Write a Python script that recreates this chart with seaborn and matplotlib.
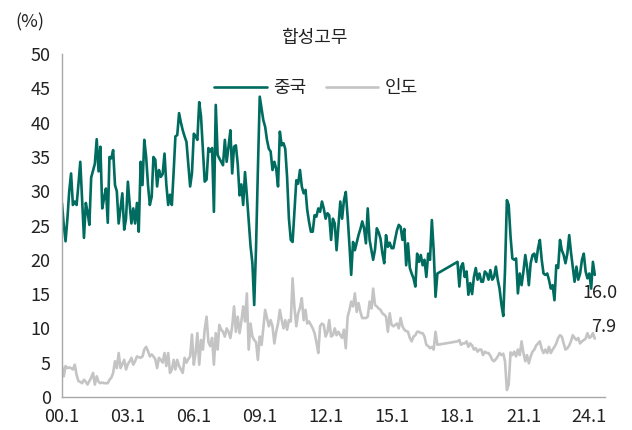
import pandas as pd
import matplotlib
matplotlib.use("Agg")
import matplotlib.pyplot as plt
import seaborn as sns

# monthly share (%), 2000.01 - 2024.04, no data for 2017.03 - 2017.12
china = [
    28.3, 25.0, 22.7, 26.0, 30.0, 32.6, 28.0, 28.5, 28.0, 31.0, 34.3, 29.0,  # 2000
    23.2, 28.3, 27.0, 25.1, 32.0, 33.0, 34.0, 37.6, 32.9, 36.5, 27.5, 29.0,  # 2001
    30.4, 25.4, 35.0, 34.8, 36.0, 30.9, 30.0, 25.3, 27.5, 29.7, 24.4, 26.0,  # 2002
    31.4, 28.0, 25.3, 27.5, 25.3, 28.3, 24.1, 34.3, 30.9, 37.5, 35.0, 31.0,  # 2003
    28.0, 29.2, 35.0, 34.6, 30.7, 33.1, 32.1, 32.5, 35.5, 31.0, 28.0, 29.5,  # 2004
    28.0, 33.0, 38.0, 38.2, 41.4, 40.0, 38.9, 38.0, 37.2, 34.0, 30.7, 32.6,  # 2005
    38.4, 38.0, 37.5, 43.0, 40.9, 36.0, 31.4, 31.7, 36.3, 35.8, 36.3, 27.0,  # 2006
    42.6, 35.3, 34.8, 34.3, 33.8, 37.5, 34.3, 36.5, 38.9, 32.6, 36.5, 36.7,  # 2007
    34.0, 29.4, 31.0, 28.0, 32.8, 29.4, 25.8, 22.0, 19.5, 13.4, 22.0, 33.1,  # 2008
    43.8, 42.0, 40.4, 39.4, 37.5, 36.2, 35.8, 33.1, 34.3, 33.3, 30.7, 38.7,  # 2009
    36.7, 37.0, 36.2, 32.0, 26.0, 22.9, 22.6, 27.0, 31.6, 31.1, 33.1, 30.7,  # 2010
    29.7, 30.2, 27.3, 25.5, 24.1, 24.1, 26.5, 26.3, 27.5, 27.0, 28.5, 27.5,  # 2011
    26.0, 26.8, 26.5, 22.9, 26.0, 25.3, 21.4, 25.0, 28.5, 26.0, 28.7, 29.9,  # 2012
    26.3, 22.0, 17.8, 22.6, 21.4, 22.5, 23.6, 24.5, 25.6, 24.6, 22.4, 27.5,  # 2013
    22.9, 21.4, 20.0, 21.5, 24.6, 24.0, 23.1, 21.0, 19.5, 23.6, 21.9, 22.5,  # 2014
    21.7, 21.7, 23.0, 24.3, 25.1, 24.8, 22.9, 24.5, 19.2, 22.4, 18.8, 18.0,  # 2015
    17.3, 16.1, 20.9, 19.7, 20.7, 19.2, 20.0, 17.5, 20.9, 20.0, 25.8, 21.4,  # 2016
    14.6, 18.0,                                                              # 2017
    19.7, 16.1, 19.0, 19.5, 17.5, 18.3, 14.9, 16.6, 15.0, 17.5, 18.8, 17.1,  # 2018
    18.0, 16.8, 16.8, 18.3, 18.0, 17.1, 18.5, 17.1, 17.5, 19.0, 17.1, 15.8,  # 2019
    13.5, 11.8, 18.5, 28.7, 28.0, 23.4, 20.2, 20.0, 20.2, 15.1, 18.0, 16.3,  # 2020
    18.3, 20.7, 19.0, 16.3, 19.5, 20.7, 20.9, 19.7, 21.7, 22.9, 20.0, 18.0,  # 2021
    17.8, 18.0, 17.1, 15.8, 16.3, 14.1, 19.2, 18.8, 22.9, 21.4, 20.7, 19.5,  # 2022
    20.9, 23.6, 21.2, 19.0, 16.8, 19.0, 17.1, 18.0, 20.0, 20.9, 18.3, 17.3,  # 2023
    18.0, 15.8, 19.7, 17.8,                                                  # 2024
]

india = [
    4.5, 3.0, 4.5, 4.2, 4.3, 4.2, 4.0, 4.7, 3.2, 2.3, 2.2, 2.0,  # 2000
    2.5, 2.2, 1.8, 2.3, 2.8, 3.5, 1.8, 3.0, 2.2, 2.0, 2.1, 2.0,  # 2001
    2.0, 2.0, 2.5, 2.8, 3.5, 5.2, 4.2, 6.4, 4.2, 4.8, 5.4, 4.0,  # 2002
    4.8, 5.2, 5.7, 4.7, 5.2, 5.9, 5.8, 5.7, 5.9, 6.9, 7.3, 6.7,  # 2003
    5.9, 6.2, 5.9, 5.5, 4.2, 5.7, 5.4, 5.0, 6.4, 4.5, 6.4, 3.5,  # 2004
    4.0, 5.4, 4.0, 5.4, 4.5, 4.0, 3.5, 5.7, 5.0, 5.5, 5.9, 9.1,  # 2005
    4.7, 6.5, 9.3, 4.7, 8.3, 6.9, 9.8, 11.7, 8.0, 7.4, 8.6, 4.7,  # 2006
    9.3, 6.9, 10.5, 9.8, 9.5, 8.8, 10.0, 9.5, 8.6, 10.3, 13.2, 9.5,  # 2007
    11.7, 9.3, 11.0, 13.2, 11.0, 15.1, 6.9, 10.7, 8.8, 8.3, 8.0, 5.4,  # 2008
    8.8, 7.6, 10.0, 12.7, 11.5, 10.3, 11.2, 10.3, 7.8, 9.5, 10.7, 12.7,  # 2009
    11.2, 10.0, 11.2, 9.8, 11.2, 11.0, 17.3, 13.0, 10.3, 12.2, 13.0, 14.4,  # 2010
    11.2, 12.7, 10.7, 11.0, 10.5, 10.0, 9.3, 8.0, 6.4, 10.3, 10.7, 10.5,  # 2011
    8.8, 9.5, 11.2, 8.8, 9.0, 10.0, 9.0, 9.5, 9.0, 8.6, 9.8, 7.1,  # 2012
    11.7, 12.7, 13.9, 13.2, 15.1, 12.4, 13.7, 12.4, 11.5, 11.5, 11.5, 11.7,  # 2013
    13.9, 12.9, 15.8, 13.4, 13.2, 12.9, 12.7, 12.2, 12.0, 11.7, 9.5, 12.2,  # 2014
    10.5, 10.3, 10.5, 10.7, 10.0, 11.5, 10.3, 9.8, 9.6, 9.5, 8.6, 8.1,  # 2015
    8.8, 9.0, 9.5, 9.5, 9.3, 9.3, 8.8, 7.6, 7.4, 7.1, 7.3, 6.9,  # 2016
    9.5, 7.6,                                                    # 2017
    8.1, 8.3, 7.6, 7.8, 7.8, 8.1, 7.3, 7.8, 7.5, 6.9, 7.1, 6.6,  # 2018
    6.9, 6.9, 6.1, 6.6, 6.4, 6.4, 6.0, 5.4, 5.2, 5.5, 5.9, 6.4,  # 2019
    6.1, 6.3, 5.2, 1.0, 1.8, 6.5, 6.1, 6.6, 5.9, 6.9, 6.1, 8.1,  # 2020
    6.4, 5.2, 6.1, 4.9, 5.9, 6.6, 6.9, 7.5, 7.8, 8.1, 7.0, 6.4,  # 2021
    6.9, 6.4, 7.3, 6.4, 6.9, 7.3, 7.8, 8.6, 9.0, 8.8, 7.8, 6.9,  # 2022
    7.1, 7.5, 8.1, 9.0, 8.6, 8.3, 8.6, 7.8, 8.1, 8.3, 8.5, 9.3,  # 2023
    8.6, 8.8, 9.3, 8.5,                                          # 2024
]

tick_years = list(range(2000, 2025, 3))
tick_labels = ["00.1", "03.1", "06.1", "09.1", "12.1", "15.1", "18.1", "21.1", "24.1"]
last_labels = {"중국": "16.0", "인도": "7.9"}

months = pd.date_range("2000-01-01", "2024-04-01", freq="MS")
months = months[(months < "2017-03-01") | (months >= "2018-01-01")]

df = pd.DataFrame({
    "date": list(months) * 2,
    "value": china + india,
    "country": ["중국"] * len(china) + ["인도"] * len(india),
})

sns.set_style("white")
plt.rcParams["font.family"] = ["Noto Sans CJK KR", "DejaVu Sans"]

teal = "#006b5f"
grey = "#c4c4c4"
axis_col = "#a8a8a8"
text_col = "#222222"

fig, ax = plt.subplots(figsize=(6.32, 4.30), dpi=100)
plt.subplots_adjust(left=0.098, right=0.957, bottom=0.077, top=0.874)

sns.lineplot(data=df, x="date", y="value", hue="country", hue_order=["중국", "인도"],
             palette={"중국": teal, "인도": grey}, linewidth=1.9, ax=ax)

ax.set_ylim(0, 50)
ax.set_xlim(pd.Timestamp("2000-01-01"), pd.Timestamp("2024-09-15"))
ax.set_yticks(range(0, 51, 5))
ax.set_xticks([pd.Timestamp(f"{y}-01-01") for y in tick_years])
ax.set_xticklabels(tick_labels)
ax.set_xlabel("")
ax.set_ylabel("")

for s in ["top", "right"]:
    ax.spines[s].set_visible(False)
for s in ["left", "bottom"]:
    ax.spines[s].set_color(axis_col)
    ax.spines[s].set_linewidth(1.0)
ax.tick_params(axis="both", direction="out", length=5, width=1, color=axis_col,
               labelsize=13, labelcolor=text_col, pad=3)

handles, labels = ax.get_legend_handles_labels()
ax.get_legend().remove()
fig.legend(handles, labels, loc="center", bbox_to_anchor=(0.5, 0.795), ncol=2,
           frameon=False, fontsize=13, handlelength=2.9, handletextpad=0.35,
           columnspacing=1.1, labelcolor=text_col)

fig.text(0.498, 1 - 38 / 430, "합성고무", ha="center", va="center", fontsize=13, color=text_col)
fig.text(0.048, 1 - 22 / 430, "(%)", ha="center", va="center", fontsize=13, color=text_col)

ax.text(pd.Timestamp("2024-07-01"), 15.2, last_labels["중국"], ha="center", va="center",
        fontsize=13, color=text_col)
ax.text(pd.Timestamp("2024-09-01"), 10.2, last_labels["인도"], ha="center", va="center",
        fontsize=13, color=text_col)

fig.savefig("out.png", dpi=100)
